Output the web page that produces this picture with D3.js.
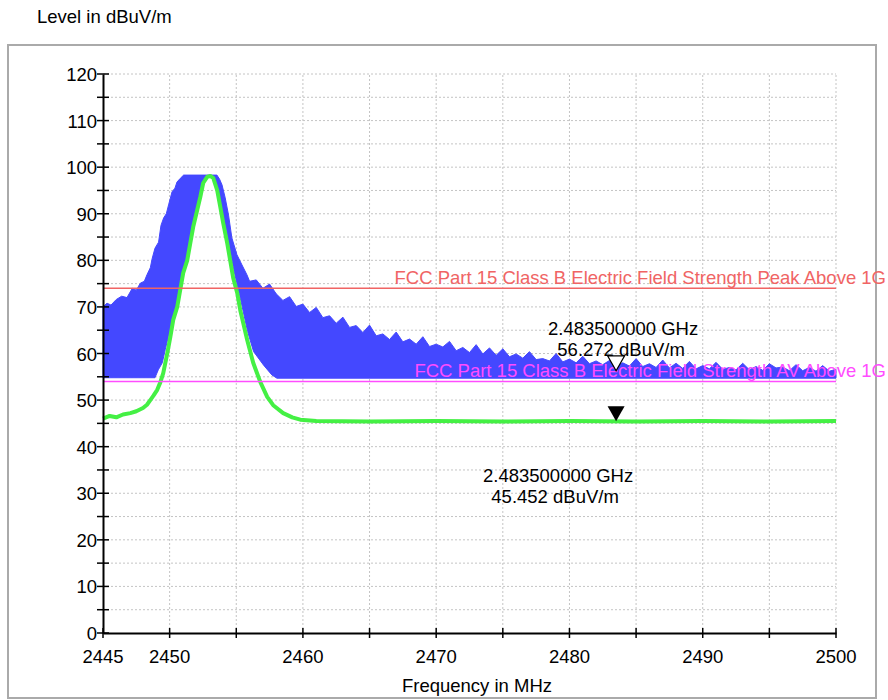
<!DOCTYPE html>
<html>
<head>
<meta charset="utf-8">
<script src="https://cdn.jsdelivr.net/npm/d3@7"></script>
<style>
    body { margin: 0; background: #fff; }
    text { font-family: "Liberation Sans", Arial, sans-serif; font-size: 18.5px; }
</style>
</head>
<body>
<script>
var w = 888;
var h = 700;

// plot area inside the svg
var plot = { left: 103, right: 836, top: 74, bottom: 633 };

// axis ticks
var xTickValues = [2445, 2450, 2460, 2470, 2480, 2490, 2500];
var yTickValues = [0, 10, 20, 30, 40, 50, 60, 70, 80, 90, 100, 110, 120];

// peak trace (max hold) - upper envelope
var peakUpperFreq = [2445, 2445.3, 2445.6, 2446, 2446.4, 2446.8, 2447.2, 2447.5, 2447.8, 2448.1,
    2448.3, 2448.55, 2448.7, 2448.9, 2449.17, 2449.35, 2449.55, 2449.75, 2449.92, 2450.18,
    2450.4, 2450.55, 2450.8, 2451.05, 2453.55, 2453.75, 2453.93, 2454.17, 2454.42, 2454.67,
    2455.05, 2455.43, 2455.8,
    2456, 2456.5, 2457, 2457.5, 2458, 2458.5, 2459, 2459.5, 2460, 2460.5,
    2461, 2461.5, 2462, 2462.5, 2463, 2463.5, 2464, 2464.5, 2465, 2465.5,
    2466, 2466.5, 2467, 2467.5, 2468, 2468.5, 2469, 2469.5, 2470, 2470.5,
    2471, 2471.5, 2472, 2472.5, 2473, 2473.5, 2474, 2474.5, 2475, 2475.5,
    2476, 2476.5, 2477, 2477.5, 2478, 2478.5, 2479, 2479.5, 2480, 2480.5,
    2481, 2481.5, 2482, 2482.5, 2483, 2483.5, 2484, 2484.5, 2485, 2485.5,
    2486, 2486.5, 2487, 2487.5, 2488, 2488.5, 2489, 2489.5, 2490, 2490.5,
    2491, 2491.5, 2492, 2492.5, 2493, 2493.5, 2494, 2494.5, 2495, 2495.5,
    2496, 2496.5, 2497, 2497.5, 2498, 2498.5, 2499, 2499.5, 2500];
var peakUpper = [70.0, 70.8, 70.4, 71.6, 72.3, 72.0, 74.0, 73.6, 75.1, 75.5,
    76.9, 78.4, 80.5, 82.6, 83.9, 87.5, 89.1, 90.0, 91.9, 94.7,
    95.5, 96.8, 97.6, 98.3, 98.3, 97.4, 96.2, 93.4, 89.7, 84.8,
    81.2, 79.0, 76.9,
    75.5, 75.8, 74.0, 74.9, 72.8, 71.4, 72.2, 70.1, 70.6, 68.8,
    69.9, 67.7, 68.1, 66.5, 67.8, 65.6, 66.0, 64.5, 66.1, 63.8,
    64.2, 63.0, 64.6, 62.5, 63.1, 62.0, 63.6, 61.5, 62.0, 61.4,
    62.6, 60.6, 61.3, 60.2, 61.9, 59.9, 61.2, 59.6, 61.0, 59.3,
    59.9, 59.0, 60.4, 58.7, 58.9, 58.4, 60.0, 58.2, 58.8, 58.0,
    59.4, 57.8, 58.4, 57.6, 58.5, 57.4, 58.0, 57.3, 58.9, 57.2,
    57.8, 57.0, 58.6, 56.9, 57.9, 56.8, 58.3, 56.7, 57.4, 56.7,
    58.1, 56.6, 57.0, 56.5, 57.9, 56.5, 57.2, 56.4, 57.8, 56.9,
    57.1, 56.3, 57.6, 56.3, 57.0, 56.2, 57.4, 56.2, 56.6];

// peak trace - lower envelope
var peakLowerFreq = [2445, 2448.9, 2449.15, 2449.45, 2449.67, 2449.9, 2450.27, 2450.57, 2450.8, 2451.02,
    2451.32, 2451.55, 2451.77, 2452.07, 2452.3, 2452.52, 2452.82, 2453.05, 2453.27, 2453.6,
    2453.85, 2454.1, 2454.45, 2454.85, 2455.3, 2455.85, 2456.3, 2457.05, 2457.67, 2458.05, 2500];
var peakLower = [54.8, 54.8, 56.5, 58.0, 60.8, 63.6, 67.2, 70.0, 73.0, 76.8,
    80.4, 83.9, 87.6, 91.2, 94.6, 97.2, 97.9, 98.1, 97.7, 95.5,
    92.0, 88.5, 83.5, 77.5, 71.9, 64.7, 60.4, 57.5, 55.4, 54.7, 54.7];

// average trace
var avgFreq = [2445, 2445.5, 2446, 2446.5, 2447.05, 2447.5, 2448.0, 2448.3, 2448.55, 2448.8,
    2449.07, 2449.3, 2449.52, 2449.82, 2450.05, 2450.27, 2450.57, 2451.02, 2451.32, 2451.55,
    2451.77, 2452.07, 2452.3, 2452.52, 2452.82, 2453.05, 2453.27, 2453.57, 2453.8, 2454.02,
    2454.32, 2454.77, 2455.07, 2455.3, 2455.82, 2456.27, 2456.8, 2457.32, 2457.77, 2458.52,
    2459.2, 2459.8, 2461, 2465, 2470, 2475, 2480, 2485, 2490, 2495, 2500];
var avgLevel = [46.0, 46.6, 46.3, 46.9, 47.2, 47.6, 48.3, 49.0, 50.0, 51.0,
    52.2, 53.8, 55.8, 60.0, 63.5, 67.2, 70.0, 77.3, 80.0, 83.7,
    87.2, 90.8, 93.6, 96.6, 97.9, 98.1, 97.7, 95.0, 91.5, 88.0,
    83.7, 76.2, 73.0, 69.3, 62.9, 58.0, 53.9, 50.7, 48.9, 47.2,
    46.3, 45.8, 45.5, 45.4, 45.5, 45.4, 45.5, 45.4, 45.5, 45.4, 45.5];

// limit lines
var limitNames = ["FCC Part 15 Class B Electric Field Strength Peak Above 1G",
    "FCC Part 15 Class B Electric Field Strength AV Above 1G"];
var limitValues = [74, 54];
var limitColors = ["#f06464", "#ff4cff"];

// markers
var markerFreq = 2483.5;
var markerPeak = 56.272;
var markerAvg = 45.452;

var x = d3.scaleLinear()
    .domain([2445, 2500])
    .range([plot.left, plot.right]);

var y = d3.scaleLinear()
    .domain([0, 120])
    .range([plot.bottom, plot.top]);

var svg = d3.select("body")
    .append("svg")
    .attr("width", w)
    .attr("height", h);

// outer frame
svg.append("rect")
    .attr("x", 8)
    .attr("y", 45)
    .attr("width", 868)
    .attr("height", 653)
    .attr("fill", "none")
    .attr("stroke", "#aaaaaa")
    .attr("stroke-width", 2);

svg.append("text")
    .attr("x", 37)
    .attr("y", 23)
    .text("Level in dBuV/m");

// dotted grid every 5
var grid = svg.append("g")
    .attr("stroke", "#c4c4c4")
    .attr("stroke-width", 1)
    .attr("stroke-dasharray", "2,2");

grid.selectAll("line.h")
    .data(d3.range(5, 121, 5))
    .enter()
    .append("line")
    .attr("class", "h")
    .attr("x1", x(2445))
    .attr("x2", x(2500))
    .attr("y1", function(d){ return y(d); })
    .attr("y2", function(d){ return y(d); });

grid.selectAll("line.v")
    .data(d3.range(2450, 2501, 5))
    .enter()
    .append("line")
    .attr("class", "v")
    .attr("x1", function(d){ return x(d); })
    .attr("x2", function(d){ return x(d); })
    .attr("y1", y(0))
    .attr("y2", y(120));

// blue peak band: upper edge left to right, lower edge back
var bandPoints = [];
for(var i = 0; i < peakUpperFreq.length; i++){
    bandPoints.push([peakUpperFreq[i], peakUpper[i]]);
}
for(var j = peakLowerFreq.length - 1; j >= 0; j--){
    bandPoints.push([peakLowerFreq[j], peakLower[j]]);
}

var line = d3.line()
    .x(function(d){ return x(d[0]); })
    .y(function(d){ return y(d[1]); });

svg.append("path")
    .attr("d", line(bandPoints) + "Z")
    .attr("fill", "#4448ff")
    .attr("stroke", "#4448ff")
    .attr("stroke-width", 1);

// green average trace
var avgPoints = avgFreq.map(function(f, i){ return [f, avgLevel[i]]; });

svg.append("path")
    .attr("d", line(avgPoints))
    .attr("fill", "none")
    .attr("stroke", "#44f044")
    .attr("stroke-width", 4)
    .attr("stroke-linejoin", "round");

// limit lines and their names
limitValues.forEach(function(v, i){
    svg.append("line")
        .attr("x1", x(2445))
        .attr("x2", x(2500))
        .attr("y1", y(v))
        .attr("y2", y(v))
        .attr("stroke", limitColors[i])
        .attr("stroke-width", 1.5);

    svg.append("text")
        .attr("x", 886)
        .attr("y", y(v) - 4)
        .attr("text-anchor", "end")
        .attr("fill", limitColors[i])
        .text(limitNames[i]);
});

// axes
svg.append("g")
    .attr("transform", "translate(0," + y(0) + ")")
    .call(d3.axisBottom(x).tickValues(d3.range(2445, 2501, 5)).tickSize(0).tickFormat(""))
    .call(function(g){
        g.select(".domain").attr("stroke", "#000").attr("stroke-width", 2);
    });

svg.append("g")
    .attr("transform", "translate(" + x(2445) + ",0)")
    .call(d3.axisLeft(y).tickValues([]).tickSize(0))
    .call(function(g){
        g.select(".domain").attr("stroke", "#000").attr("stroke-width", 2);
    });

// crossing tick marks
svg.selectAll("line.xt")
    .data(d3.range(2445, 2501, 5))
    .enter()
    .append("line")
    .attr("x1", function(d){ return x(d); })
    .attr("x2", function(d){ return x(d); })
    .attr("y1", y(0) - 5)
    .attr("y2", y(0) + 5)
    .attr("stroke", "#000")
    .attr("stroke-width", 1.5);

svg.selectAll("line.yt")
    .data(d3.range(0, 121, 5))
    .enter()
    .append("line")
    .attr("x1", x(2445) - 6)
    .attr("x2", x(2445) + 6)
    .attr("y1", function(d){ return y(d); })
    .attr("y2", function(d){ return y(d); })
    .attr("stroke", "#000")
    .attr("stroke-width", 1.5);

svg.selectAll("text.xl")
    .data(xTickValues)
    .enter()
    .append("text")
    .attr("x", function(d){ return x(d); })
    .attr("y", y(0) + 30)
    .attr("text-anchor", "middle")
    .text(function(d){ return d; });

svg.selectAll("text.yl")
    .data(yTickValues)
    .enter()
    .append("text")
    .attr("x", x(2445) - 6)
    .attr("y", function(d){ return y(d) + 7; })
    .attr("text-anchor", "end")
    .text(function(d){ return d; });

svg.append("text")
    .attr("x", 477)
    .attr("y", 692)
    .attr("text-anchor", "middle")
    .text("Frequency in MHz");

// markers: open triangle on peak, filled on average
var mx = x(markerFreq);
var tri = function(tipY){
    return "M" + (mx - 8.5) + "," + (tipY - 15) + "L" + (mx + 8.5) + "," + (tipY - 15) + "L" + mx + "," + tipY + "Z";
};

svg.append("path")
    .attr("d", tri(y(markerPeak)))
    .attr("fill", "#fff")
    .attr("stroke", "#000")
    .attr("stroke-width", 1.2);

svg.append("path")
    .attr("d", tri(y(markerAvg)))
    .attr("fill", "#000");

svg.append("text")
    .attr("x", mx + 7)
    .attr("y", 335)
    .attr("text-anchor", "middle")
    .text((markerFreq / 1000).toFixed(9) + " GHz");

svg.append("text")
    .attr("x", mx + 5)
    .attr("y", 356)
    .attr("text-anchor", "middle")
    .text(markerPeak.toFixed(3) + " dBuV/m");

svg.append("text")
    .attr("x", mx - 58)
    .attr("y", 482)
    .attr("text-anchor", "middle")
    .text((markerFreq / 1000).toFixed(9) + " GHz");

svg.append("text")
    .attr("x", mx - 61)
    .attr("y", 503)
    .attr("text-anchor", "middle")
    .text(markerAvg.toFixed(3) + " dBuV/m");
</script>
</body>
</html>
